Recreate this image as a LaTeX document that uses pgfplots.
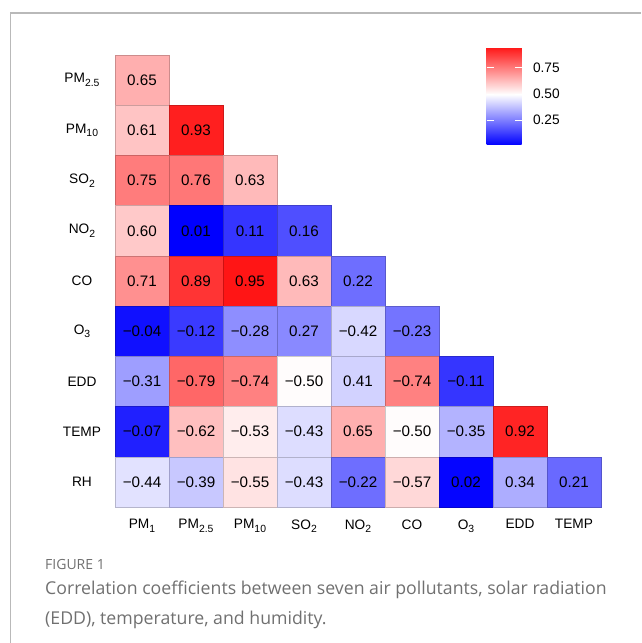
\documentclass[border=0pt]{standalone}
\usepackage{pgfplots}
\usepackage{pgfplotstable}
\pgfplotsset{compat=1.18}
\usepackage{fontspec}
\setmainfont{Liberation Sans}
\newfontfamily\capfont{Open Sans}
\definecolor{capgray}{RGB}{112,112,112}
\definecolor{framegray}{RGB}{185,185,185}
\newcommand{\sub}[1]{\raisebox{-0.28em}{\fontsize{10.4}{12}\selectfont #1}}

% lower triangle of the correlation matrix, x = column, y = row (RH = 1 ... PM2.5 = 9)
\pgfplotstableread{
x y r lbl
1 9 0.65 0.65
1 8 0.61 0.61
2 8 0.93 0.93
1 7 0.75 0.75
2 7 0.76 0.76
3 7 0.63 0.63
1 6 0.60 0.60
2 6 0.01 0.01
3 6 0.11 0.11
4 6 0.16 0.16
1 5 0.71 0.71
2 5 0.89 0.89
3 5 0.95 0.95
4 5 0.63 0.63
5 5 0.22 0.22
1 4 -0.04 −0.04
2 4 -0.12 −0.12
3 4 -0.28 −0.28
4 4 0.27 0.27
5 4 -0.42 −0.42
6 4 -0.23 −0.23
1 3 -0.31 −0.31
2 3 -0.79 −0.79
3 3 -0.74 −0.74
4 3 -0.50 −0.50
5 3 0.41 0.41
6 3 -0.74 −0.74
7 3 -0.11 −0.11
1 2 -0.07 −0.07
2 2 -0.62 −0.62
3 2 -0.53 −0.53
4 2 -0.43 −0.43
5 2 0.65 0.65
6 2 -0.50 −0.50
7 2 -0.35 −0.35
8 2 0.92 0.92
1 1 -0.44 −0.44
2 1 -0.39 −0.39
3 1 -0.55 −0.55
4 1 -0.43 −0.43
5 1 -0.22 −0.22
6 1 -0.57 −0.57
7 1 0.02 0.02
8 1 0.34 0.34
9 1 0.21 0.21
}\corr

\begin{document}
\begin{tikzpicture}[x=1pt,y=1pt]
\useasboundingbox (0,0) rectangle (641,643);
\draw[framegray, line width=1.2pt] (10.5,0) -- (10.5,630) -- (641,630);

\begin{axis}[
    at={(115pt,136pt)}, anchor=south west,
    scale only axis, width=486pt, height=452pt,
    xmin=0.5, xmax=9.5, ymin=0.5, ymax=9.5,
    clip=false,
    axis line style={draw=none},
    major tick length=0pt,
    xtick={1,...,9}, ytick={1,...,9},
    xticklabels={PM\sub{1}, PM\sub{2.5}, PM\sub{10}, SO\sub{2}, NO\sub{2}, CO, O\sub{3}, EDD, TEMP},
    yticklabels={RH, TEMP, EDD, O\sub{3}, CO, NO\sub{2}, SO\sub{2}, PM\sub{10}, PM\sub{2.5}},
    ticklabel style={font=\fontsize{13.7}{16}\selectfont},
    xticklabel style={anchor=north, yshift=-9pt},
    yticklabel style={anchor=center, xshift=-33pt},
    colormap={bwr}{rgb255(0cm)=(0,0,255) rgb255(48.5cm)=(255,255,255) rgb255(94cm)=(255,21,21)},
    point meta min=0.01, point meta max=0.95,
    colorbar,
    colorbar/width=35pt,
    colorbar style={
        at={(parent axis.north west)}, anchor=north west,
        xshift=363pt, yshift=8pt,
        scale only axis, width=35pt, height=98pt,
        xtick=\empty,
        axis on top,
        axis line style={draw=none},
        ytick={0.25,0.5,0.75}, yticklabels={0.25,0.50,0.75},
        ytick pos=both, yticklabel pos=right,
        tick align=inside, major tick length=7pt,
        tick style={draw=white, line width=0.8pt},
        yticklabel style={font=\fontsize{13.7}{16}\selectfont, anchor=west, xshift=8pt},
    },
]
\addplot[scatter, only marks, scatter src=explicit,
    mark=square*, mark size=25.1pt,
    mark options={xscale=1.0757, draw=white, line width=0.4pt}]
    table[x=x, y=y, meta expr={abs(\thisrow{r})}] {\corr};
\addplot[draw=none, mark=none, point meta=explicit symbolic,
    nodes near coords, nodes near coords align=center,
    every node near coord/.append style={font=\fontsize{15.2}{18}\selectfont, text=black, anchor=center}]
    table[x=x, y=y, meta=lbl] {\corr};
\end{axis}

\node[anchor=base west, inner sep=0, text=capgray, font=\capfont\fontsize{14}{16}\selectfont] at (45,73) {FIGURE 1};
\node[anchor=base west, inner sep=0, text=capgray, font=\capfont\fontsize{17.7}{21}\selectfont] at (45,48) {Correlation coefficients between seven air pollutants, solar radiation};
\node[anchor=base west, inner sep=0, text=capgray, font=\capfont\fontsize{17.7}{21}\selectfont] at (45,19) {(EDD), temperature, and humidity.};
\end{tikzpicture}
\end{document}
